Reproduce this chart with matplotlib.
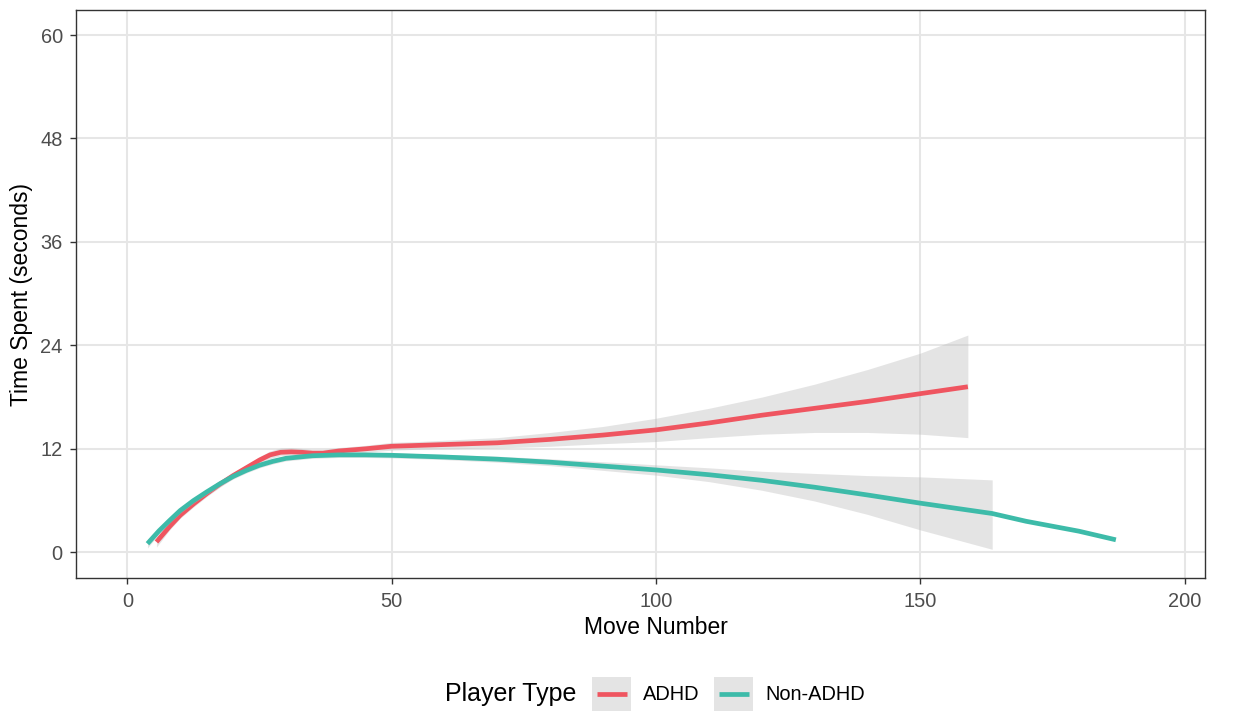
import matplotlib
matplotlib.use("Agg")
import matplotlib.pyplot as plt
from matplotlib.patches import Rectangle
from matplotlib.lines import Line2D
import numpy as np

plt.rcParams['font.family'] = ['Liberation Sans', 'DejaVu Sans']

# ADHD smooth fit
adhd_x = [5.5, 8, 10, 12.5, 15, 17.5, 20, 22.5, 25, 27, 29, 31, 33, 35, 37, 40, 45, 50,
          55, 60, 70, 80, 90, 100, 110, 120, 130, 140, 150, 159]
adhd_y = [1.2, 3.0, 4.3, 5.6, 6.8, 7.9, 8.9, 9.8, 10.7, 11.3, 11.6, 11.65, 11.6, 11.5, 11.5,
          11.75, 12.0, 12.3, 12.4, 12.5, 12.7, 13.1, 13.6, 14.2, 15.0, 15.9, 16.7, 17.5, 18.4, 19.2]
adhd_lo = [0.6, 2.6, 3.95, 5.25, 6.45, 7.55, 8.55, 9.45, 10.3, 10.85, 11.2, 11.25, 11.15, 11.1,
           11.1, 11.35, 11.6, 11.85, 11.95, 12.0, 12.1, 12.3, 12.6, 12.85, 13.3, 13.7, 13.9,
           13.9, 13.7, 13.3]
adhd_hi = [1.8, 3.4, 4.65, 5.95, 7.15, 8.25, 9.25, 10.15, 11.1, 11.75, 12.1, 12.15, 12.05, 11.9,
           11.9, 12.15, 12.4, 12.75, 12.85, 13.0, 13.3, 13.9, 14.6, 15.55, 16.7, 18.0, 19.5,
           21.2, 23.1, 25.2]

# Non-ADHD smooth fit; the ribbon stops at ~163.6
non_x = [3.8, 6, 8, 10, 12.5, 15, 17.5, 20, 22.5, 25, 27.5, 30, 35, 40, 45, 50, 60, 70, 80,
         90, 100, 110, 120, 130, 140, 150, 163.6, 170, 180, 187]
non_y = [1.0, 2.5, 3.7, 4.85, 6.0, 7.0, 7.95, 8.8, 9.5, 10.1, 10.55, 10.9, 11.2, 11.3, 11.3,
         11.25, 11.05, 10.8, 10.45, 10.0, 9.55, 9.0, 8.35, 7.55, 6.65, 5.7, 4.5, 3.6, 2.45, 1.45]
non_lo = [0.5, 2.15, 3.4, 4.55, 5.7, 6.7, 7.65, 8.5, 9.2, 9.8, 10.25, 10.6, 10.9, 11.0, 11.0,
          10.95, 10.75, 10.45, 10.05, 9.5, 8.95, 8.2, 7.2, 5.95, 4.4, 2.6, 0.35,
          np.nan, np.nan, np.nan]
non_hi = [1.5, 2.85, 4.0, 5.15, 6.3, 7.3, 8.25, 9.1, 9.8, 10.4, 10.85, 11.2, 11.5, 11.6, 11.6,
          11.55, 11.35, 11.15, 10.85, 10.5, 10.15, 9.8, 9.4, 9.15, 8.9, 8.75, 8.4,
          np.nan, np.nan, np.nan]

x_ticks = [0, 50, 100, 150, 200]
y_ticks = [0, 12, 24, 36, 48, 60]

RED = '#EF5560'
TEAL = '#3DBBA9'
BAND = '#BDBDBD'
LW = 3.4
W, H = 1233, 713

fig = plt.figure(figsize=(W / 100, H / 100), dpi=100)
ax = fig.add_axes([76 / W, 1 - 578 / H, 1129 / W, 568 / H])

# ribbon then line, group by group like geom_smooth
ax.fill_between(adhd_x, adhd_lo, adhd_hi, color=BAND, alpha=0.4, lw=0, zorder=2)
ax.plot(adhd_x, adhd_y, color=RED, lw=LW, solid_capstyle='butt', zorder=3)
ax.fill_between(non_x, non_lo, non_hi, color=BAND, alpha=0.4, lw=0, zorder=4)
ax.plot(non_x, non_y, color=TEAL, lw=LW, solid_capstyle='butt', zorder=5)

ax.set_xlim(-9.72, 203.86)
ax.set_ylim(-2.98, 62.9)
ax.set_xticks(x_ticks)
ax.set_yticks(y_ticks)
ax.grid(True, color='#E6E6E6', lw=1.45, zorder=0)
ax.set_axisbelow(True)

for s in ax.spines.values():
    s.set_color('#333333')
    s.set_linewidth(1.0)

ax.tick_params(axis='both', colors='#333333', length=4, width=1.0,
               labelsize=14.4, labelcolor='#4D4D4D')
ax.tick_params(axis='x', pad=6.3)
ax.tick_params(axis='y', pad=5.5)

ax.set_xlabel('Move Number', fontsize=16.5, color='black')
ax.set_ylabel('Time Spent (seconds)', fontsize=16.5, color='black')
ax.xaxis.set_label_coords((656 - 76) / 1129, (578 - 627) / 568)
ax.xaxis.label.set_va('center')
ax.yaxis.set_label_coords((22 - 76) / 1129, 0.5)
ax.yaxis.label.set_va('center')

# legend at the bottom, laid out like ggplot's horizontal guide
ly = 1 - 694 / H
fig.text(445 / W, ly, 'Player Type', fontsize=18, va='center', ha='left')
entries = [('ADHD', RED, 592), ('Non-ADHD', TEAL, 714)]
for lab, col, kx in entries:
    fig.add_artist(Rectangle((kx / W, 1 - 711 / H), 39 / W, 34 / H,
                             transform=fig.transFigure, facecolor='#E4E4E4',
                             edgecolor='none'))
    fig.add_artist(Line2D([(kx + 5) / W, (kx + 35) / W], [ly, ly],
                          transform=fig.transFigure, color=col, lw=LW,
                          solid_capstyle='butt'))
    fig.text((kx + 51) / W, ly, lab, fontsize=14.4, va='center', ha='left')

fig.savefig('out.png', dpi=100)
